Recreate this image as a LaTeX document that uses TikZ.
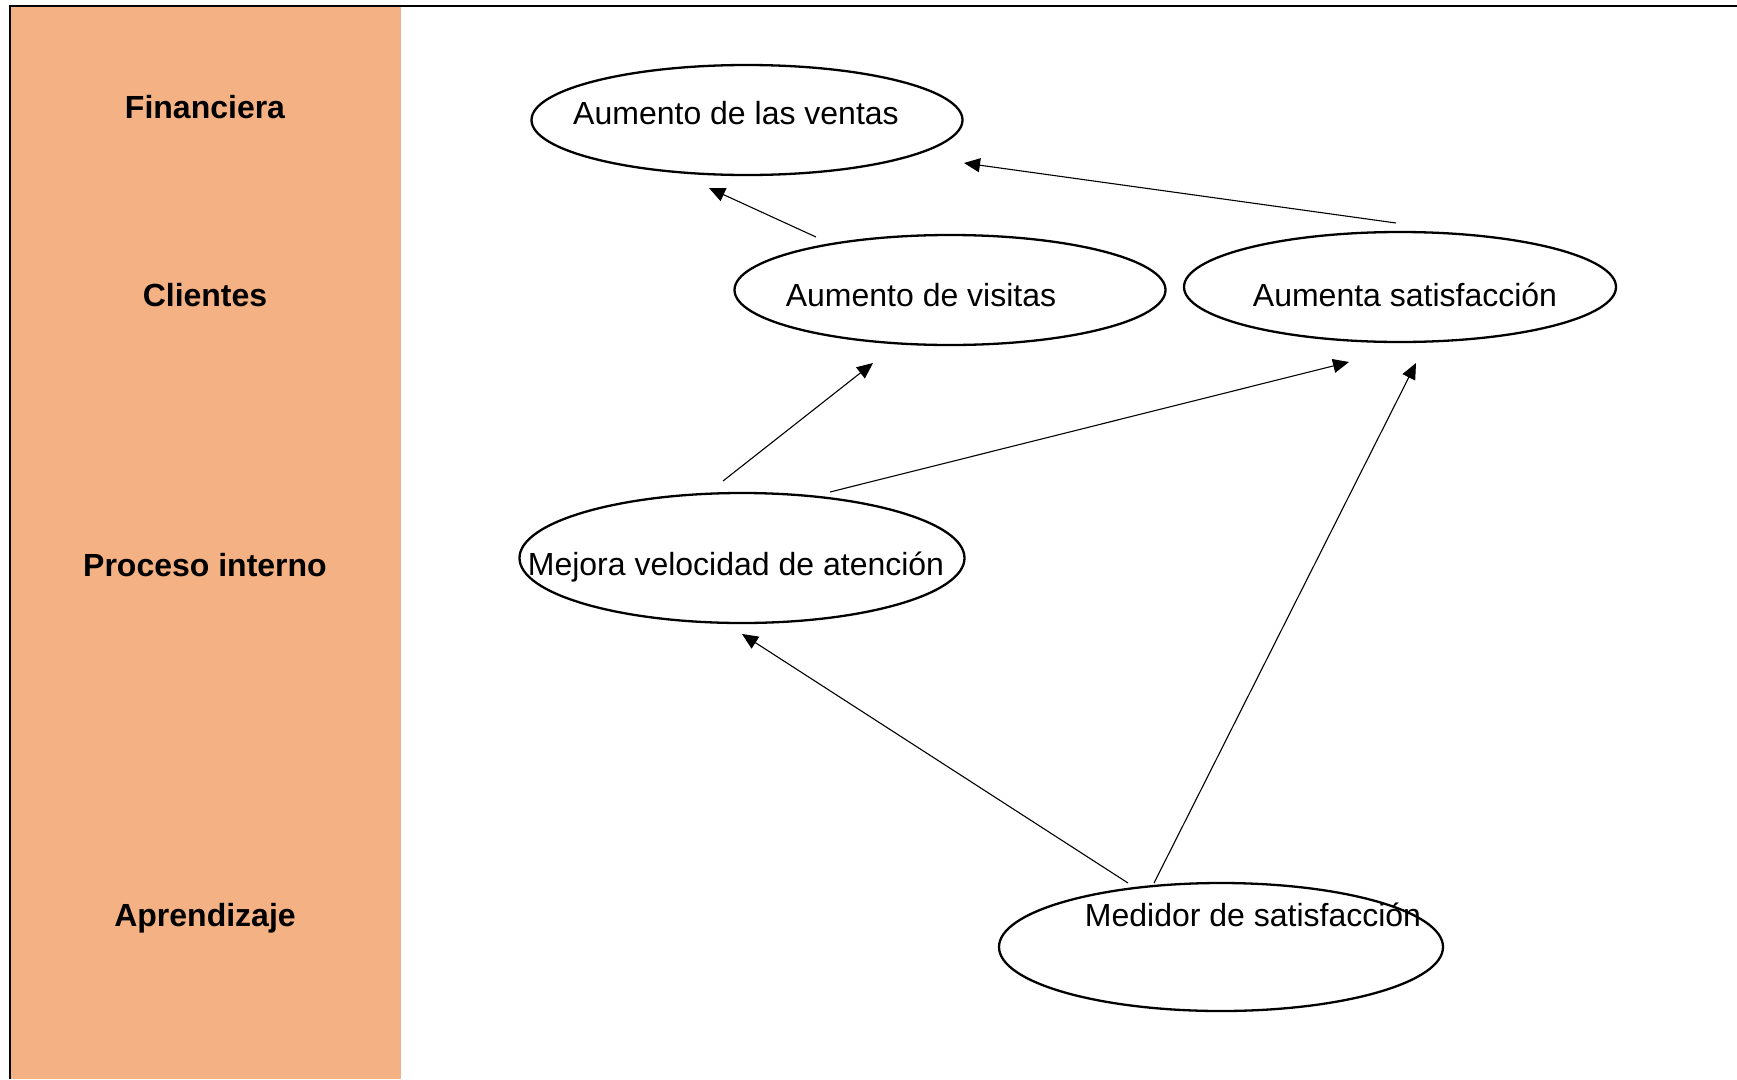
\documentclass[tikz,border=0pt]{standalone}
\usepackage{fontspec}
\setmainfont{Liberation Sans}
\usetikzlibrary{shapes.geometric,arrows.meta}
\definecolor{band}{HTML}{F4B183}
\begin{document}
\begin{tikzpicture}[x=1pt,y=-1pt,
  ell/.style={draw,ellipse,line width=2.3pt,inner sep=0pt},
  lbl/.style={font=\fontsize{32}{38}\selectfont,inner sep=0pt,anchor=center},
  rowlbl/.style={font=\fontsize{32}{38}\selectfont\bfseries,inner sep=0pt,anchor=center},
  conn/.style={line width=1.1pt,-{Triangle[length=16pt,width=14pt]}}]
\useasboundingbox (0,0) rectangle (1737,1079);
\fill[white] (0,0) rectangle (1737,1079);
\fill[band] (10,7) rectangle (401,1079);
\draw[line width=2pt] (10,1079) -- (10,6) -- (1737,6);

\node[rowlbl] (r1) at (205,107) {Financiera};
\node[rowlbl] (r2) at (205,295) {Clientes};
\node[rowlbl] (r3) at (205,565) {Proceso interno};
\node[rowlbl] (r4) at (205,918) {Aprendizaje};

\node[ell,minimum width=431pt,minimum height=110pt] (ventas) at (747,120) {};
\node[lbl] (tventas) at (736,113) {Aumento de las ventas};
\node[ell,minimum width=431pt,minimum height=110pt] (visitas) at (950,290) {};
\node[lbl] (tvisitas) at (921,295) {Aumento de visitas};
\node[ell,minimum width=432pt,minimum height=110pt] (satisf) at (1400,287) {};
\node[lbl] (tsatisf) at (1405,295) {Aumenta satisfacción};
\node[ell,minimum width=445pt,minimum height=130pt] (mejora) at (742,558) {};
\node[lbl] (tmejora) at (736,567) {Mejora velocidad de atención};
\node[ell,minimum width=444pt,minimum height=128pt] (medidor) at (1221,947) {};
\node[lbl] (tmedidor) at (1253,915) {Medidor de satisfacción};

\coordinate (a1s) at (816,237); \coordinate (a1e) at (709,188);
\coordinate (a2s) at (1396,223); \coordinate (a2e) at (964,163);
\coordinate (a3s) at (723,481); \coordinate (a3e) at (873,363);
\coordinate (a4s) at (830,492); \coordinate (a4e) at (1349,362);
\coordinate (a5s) at (1154,883); \coordinate (a5e) at (1416,363);
\coordinate (a6s) at (1128,883); \coordinate (a6e) at (742,634);

\draw[conn] (a1s) -- (a1e);
\draw[conn] (a2s) -- (a2e);
\draw[conn] (a3s) -- (a3e);
\draw[conn] (a4s) -- (a4e);
\draw[conn] (a5s) -- (a5e);
\draw[conn] (a6s) -- (a6e);
\end{tikzpicture}
\end{document}
